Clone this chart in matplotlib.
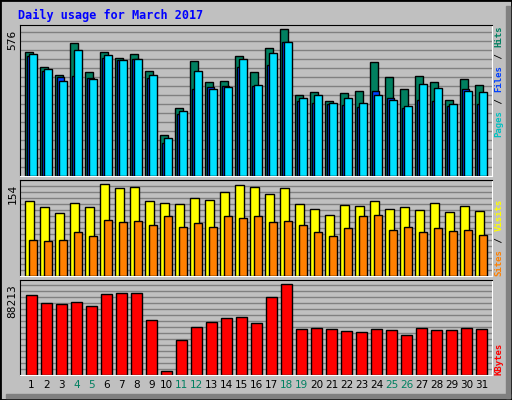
import matplotlib
matplotlib.use("Agg")
import matplotlib.pyplot as plt
from matplotlib.patches import Rectangle
import numpy as np

days = list(range(1, 32))
weekends = [4, 5, 11, 12, 18, 19, 25, 26]

hits = [488, 427, 395, 521, 407, 486, 462, 478, 411, 160, 266, 450, 368, 375, 470, 407,
        501, 576, 317, 328, 293, 325, 333, 446, 387, 340, 392, 368, 297, 380, 356]
files = [471, 411, 387, 392, 384, 462, 454, 458, 384, 128, 242, 340, 348, 352, 427, 352,
         434, 525, 293, 285, 281, 278, 270, 333, 308, 266, 297, 293, 273, 340, 281]
pages = [478, 422, 375, 494, 380, 474, 454, 458, 395, 148, 254, 411, 340, 348, 458, 356,
         482, 525, 305, 317, 285, 308, 285, 317, 297, 273, 360, 345, 281, 333, 328]
visits = [126, 116, 105, 122, 116, 154, 147, 149, 126, 122, 121, 131, 127, 141, 152, 149,
          137, 147, 121, 112, 102, 119, 117, 126, 112, 116, 110, 122, 107, 117, 109]
sites = [60, 59, 60, 74, 67, 94, 90, 92, 85, 100, 82, 89, 82, 100, 97, 100,
         90, 92, 85, 74, 67, 80, 100, 102, 77, 82, 74, 80, 75, 77, 69]
kbytes = [77544, 69790, 68820, 70760, 66880, 78510, 79480, 79480, 53310, 3877, 33925,
          46526, 51373, 55250, 56220, 50404, 75605, 88213, 44588, 45557, 44588, 42649,
          41680, 44588, 43618, 38772, 45557, 43618, 43618, 45557, 44588]

BG = "#C0C0C0"
W, H = 512, 400
fig = plt.figure(figsize=(5.12, 4.0), dpi=100, facecolor=BG)
fig.patches.append(Rectangle((0, 0), 1, 1, transform=fig.transFigure, fill=False,
                             edgecolor="black", lw=2))
fig.patches.append(Rectangle((506 / W, 2 / H), 4 / W, 392 / H, transform=fig.transFigure,
                             color="#808080"))
fig.patches.append(Rectangle((6 / W, 2 / H), 504 / W, 4 / H, transform=fig.transFigure,
                             color="#808080"))

def px_axes(top, bottom):
    return fig.add_axes([20 / W, 1 - bottom / H, 472 / W, (bottom - top) / H])

x = np.array(days)
xlim = (1 - 5 / 15, 1 + 467 / 15)

def style(ax, ymax, step_px, height_px):
    ax.set_facecolor(BG)
    ax.set_xlim(*xlim)
    ax.set_ylim(0, ymax)
    n = int(height_px / step_px)
    for i in range(1, n + 1):
        ax.axhline(ymax * i * step_px / height_px, color="#808080", lw=1, zorder=0)
    ax.set_xticks([])
    ax.set_yticks([])
    for s in ["top", "left"]:
        ax.spines[s].set_color("black")
    for s in ["bottom", "right"]:
        ax.spines[s].set_color("white")

mono = "DejaVu Sans Mono"
ec = dict(edgecolor="black", linewidth=1)

# panel 1: hits / files / pages
ax1 = px_axes(25, 176)
style(ax1, 593, 9, 151)
ax1.bar(x, hits, width=0.53, align="edge", color="#008060", **ec, zorder=2)
ax1.bar(x + 0.15, files, width=0.45, align="edge", color="#0040FF", **ec, zorder=3)
ax1.bar(x + 0.27, pages, width=0.53, align="edge", color="#00E0FF", **ec, zorder=4)

# panel 2: visits / sites
ax2 = px_axes(180, 276)
style(ax2, 161, 6, 96)
ax2.bar(x, visits, width=0.6, align="edge", color="#FFFF00", **ec, zorder=2)
ax2.bar(x + 0.27, sites, width=0.53, align="edge", color="#FF8000", **ec, zorder=3)

# panel 3: kbytes
ax3 = px_axes(280, 375)
style(ax3, 92080, 6, 95)
ax3.bar(x + 0.07, kbytes, width=0.73, align="edge", color="#FF0000", **ec, zorder=2)

for ax, v in [(ax1, max(hits)), (ax2, max(visits)), (ax3, max(kbytes))]:
    ax.text(-0.005, v, str(v), transform=ax.get_yaxis_transform(), rotation=90,
            ha="right", va="top", fontsize=8, family=mono, color="black")

for d in days:
    ax3.text(d + 0.43, -0.05, str(d), transform=ax3.get_xaxis_transform(), ha="center",
             va="top", fontsize=7.5, family="DejaVu Sans",
             color="#008060" if d in weekends else "black")

fig.text(18 / W, 1 - 15 / H, "Daily usage for March 2017", color="#0000FF",
         fontsize=8.5, family=mono, fontweight="bold", va="center")

def side_legend(bottom_px, parts):
    y = bottom_px
    for txt, col in parts:
        fig.text(499 / W, 1 - y / H, txt, rotation=90, color=col, fontsize=6.5,
                 family=mono, fontweight="bold", ha="center", va="bottom")
        y -= len(txt) * 5.6

side_legend(137, [("Pages", "#00C0C0"), (" / ", "black"), ("Files", "#0040FF"),
                  (" / ", "black"), ("Hits", "#008060")])
side_legend(276, [("Sites", "#FF8000"), (" / ", "black"), ("Visits", "#FFFF00")])
side_legend(375, [("KBytes", "#FF0000")])

fig.savefig("out.png", dpi=100, facecolor=BG)
